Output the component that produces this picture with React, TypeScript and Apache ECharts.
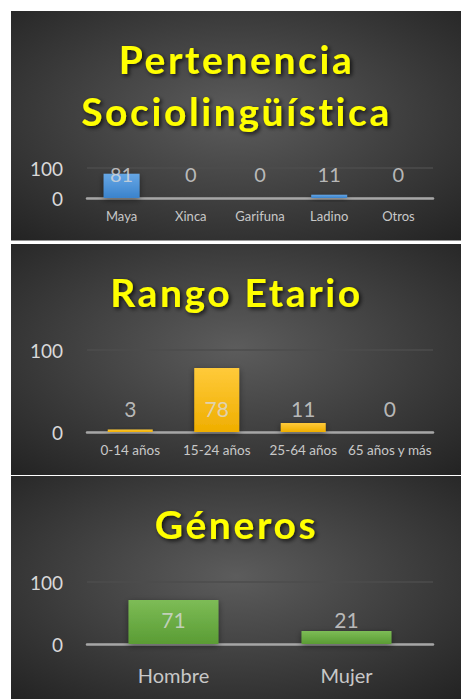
import React, { useEffect, useRef } from "react";
import * as echarts from "echarts";

const socioCategories = ["Maya", "Xinca", "Garifuna", "Ladino", "Otros"];
const socioValues = [81, 0, 0, 11, 0];
const ageCategories = ["0-14 años", "15-24 años", "25-64 años", "65 años y más"];
const ageValues = [3, 78, 11, 0];
const genderCategories = ["Hombre", "Mujer"];
const genderValues = [71, 21];
const yMin = 0;
const yMax = 100;

const panels = [
  {
    titles: ["Pertenencia", "Sociolingüística"],
    titleY: [59, 111],
    box: { x: 11, y: 11, w: 450, h: 229.5 },
    grid: { top: 168, height: 30 },
    cats: socioCategories,
    vals: socioValues,
    labelLevel: 80,
    colors: ["#66a7e6", "#3b83cc"],
    xFont: 13,
    xMargin: 11,
    valFont: 20,
  },
  {
    titles: ["Rango Etario"],
    titleY: [292],
    box: { x: 11, y: 244, w: 450, h: 231 },
    grid: { top: 350, height: 82 },
    cats: ageCategories,
    vals: ageValues,
    labelLevel: 29,
    colors: ["#ffca3a", "#efae00"],
    xFont: 13.5,
    xMargin: 11,
    valFont: 21,
  },
  {
    titles: ["Géneros"],
    titleY: [524],
    box: { x: 11, y: 476, w: 450, h: 223 },
    grid: { top: 582, height: 62 },
    cats: genderCategories,
    vals: genderValues,
    labelLevel: 39,
    colors: ["#7dbc56", "#5a9c34"],
    xFont: 20,
    xMargin: 21,
    valFont: 21,
  },
];

const FONT = "Lato, 'Open Sans', sans-serif";
const TITLE_SPACING = 2.6;

export default function App() {
  const ref = useRef<HTMLDivElement>(null);
  useEffect(() => {
    if (!ref.current) return;
    const chart = echarts.init(ref.current, null, { renderer: "svg" });
    const graphic: any[] = [];
    const allTitles: string[] = [];
    panels.forEach((p) => {
      graphic.push({
        type: "rect",
        z: -10,
        shape: { x: p.box.x, y: p.box.y, width: p.box.w, height: p.box.h },
        style: {
          fill: new echarts.graphic.RadialGradient(0.5, 0.45, 0.75, [
            { offset: 0, color: "#5c5c5c" },
            { offset: 1, color: "#222222" },
          ]),
        },
      });
      p.titles.forEach((t, i) => {
        allTitles.push(t);
        graphic.push({
          type: "text",
          z: 10,
          x: 236.5,
          y: p.titleY[i],
          style: {
            text: t,
            fill: "#ffff00",
            font: `bold 39px ${FONT}`,
            align: "center",
            verticalAlign: "middle",
            textShadowColor: "rgba(0,0,0,0.75)",
            textShadowBlur: 4,
            textShadowOffsetX: 2,
            textShadowOffsetY: 2,
          },
        });
      });
    });

    const grids = panels.map((p) => ({
      left: 87,
      right: 28,
      top: p.grid.top,
      height: p.grid.height,
    }));
    const xAxes = panels.map((p, i) => ({
      type: "category",
      gridIndex: i,
      data: p.cats,
      axisTick: { show: false },
      axisLine: { lineStyle: { color: "#a6a6a6", width: 2.5 } },
      axisLabel: {
        color: "#c8c8c8",
        fontFamily: FONT,
        fontSize: p.xFont,
        margin: p.xMargin,
        interval: 0,
      },
    }));
    const yAxes = panels.map((p, i) => ({
      type: "value",
      gridIndex: i,
      min: yMin,
      max: yMax,
      interval: 100,
      axisLine: { show: false },
      axisTick: { show: false },
      axisLabel: {
        color: "#d9d9d9",
        fontFamily: FONT,
        fontSize: 19,
        margin: 24,
      },
      splitLine: { lineStyle: { color: "#4c4c4c", width: 1.5 } },
    }));
    const series: any[] = [];
    panels.forEach((p, i) => {
      series.push({
        type: "bar",
        xAxisIndex: i,
        yAxisIndex: i,
        data: p.vals,
        barWidth: "52%",
        itemStyle: {
          color: new echarts.graphic.LinearGradient(0, 0, 0, 1, [
            { offset: 0, color: p.colors[0] },
            { offset: 1, color: p.colors[1] },
          ]),
          shadowBlur: 6,
          shadowColor: "rgba(0,0,0,0.45)",
          shadowOffsetY: 2,
        },
      });
      series.push({
        type: "scatter",
        xAxisIndex: i,
        yAxisIndex: i,
        symbolSize: 1,
        itemStyle: { color: "transparent" },
        silent: true,
        z: 5,
        data: p.vals.map((v, j) => [j, p.labelLevel]),
        label: {
          show: true,
          position: "inside",
          color: "#d9d9d9",
          fontFamily: FONT,
          fontSize: p.valFont,
          formatter: (params: any) => String(p.vals[params.dataIndex]),
        },
      });
    });

    const applySpacing = () => {
      const dom = chart.getDom();
      dom.querySelectorAll("text").forEach((el) => {
        if (allTitles.includes((el.textContent || "").trim())) {
          el.setAttribute("letter-spacing", String(TITLE_SPACING));
        }
      });
    };
    chart.on("finished", applySpacing);

    chart.setOption({
      animation: false,
      backgroundColor: "#ffffff",
      graphic,
      grid: grids,
      xAxis: xAxes,
      yAxis: yAxes,
      series,
    });
    applySpacing();
    return () => chart.dispose();
  }, []);
  return (
    <div
      ref={ref}
      style={{ position: "fixed", left: 0, top: 0, width: 461, height: 699 }}
    />
  );
}
